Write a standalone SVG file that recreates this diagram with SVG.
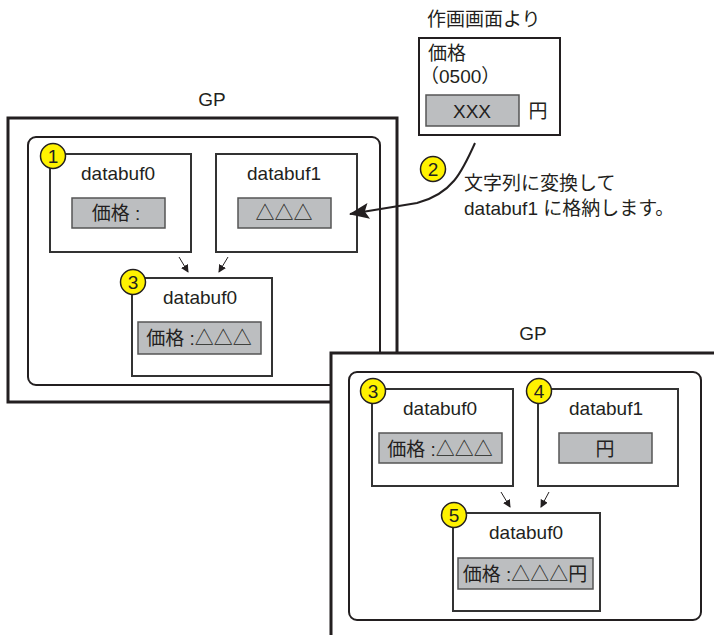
<svg xmlns="http://www.w3.org/2000/svg" width="714" height="635" viewBox="0 0 714 635">
<style>
text{font-family:"Liberation Sans","Noto Sans CJK JP",Arial,sans-serif;fill:#231f20;font-size:19px}
.c{text-anchor:middle;dominant-baseline:central}
.outer{fill:#fff;stroke:#231f20;stroke-width:3}
.inner{fill:#fff;stroke:#231f20;stroke-width:2}
.box{fill:#fff;stroke:#333;stroke-width:2}
.field{fill:#bcbec0;stroke:#555;stroke-width:1.5}
.badge{fill:#fff200;stroke:#231f20;stroke-width:1.5}
.thin{stroke:#231f20;stroke-width:1;fill:none}
</style>
<defs>
<marker id="sa" markerWidth="8" markerHeight="8" refX="7" refY="4" orient="auto" markerUnits="userSpaceOnUse"><path d="M0,0 L8,4 L0,8 z" fill="#231f20"/></marker>
<marker id="ba" markerWidth="20" markerHeight="16" refX="19" refY="8" orient="auto" markerUnits="userSpaceOnUse"><path d="M0,0 L20,8 L0,16 L4,8 z" fill="#231f20"/></marker>
</defs>

<!-- Left GP -->
<g id="gp1">
<text class="c" x="212" y="99">GP</text>
<rect class="outer" x="8" y="118" width="389" height="284"/>
<rect class="inner" x="28" y="137" width="352" height="248" rx="8"/>
</g>
<g id="n1">
<rect class="box" x="50" y="154" width="141" height="98"/>
<text class="c" x="118" y="173">databuf0</text>
<rect class="field" x="72" y="198" width="93" height="30"/>
<text class="c" x="116" y="213">価格 :</text>
<circle class="badge" cx="53" cy="156" r="12.5"/>
<text class="c" x="53" y="156">1</text>
</g>
<g id="n1b">
<rect class="box" x="216" y="154" width="141" height="98"/>
<text class="c" x="284" y="173">databuf1</text>
<rect class="field" x="238" y="198" width="93" height="30"/>
<text class="c" x="284" y="213">△△△</text>
</g>
<g id="n3">
<rect class="box" x="132" y="278" width="140" height="98"/>
<text class="c" x="200" y="297">databuf0</text>
<rect class="field" x="138" y="322" width="123" height="32"/>
<text class="c" x="199" y="338">価格 :△△△</text>
<circle class="badge" cx="133" cy="282" r="12.5"/>
<text class="c" x="133" y="282">3</text>
</g>

<!-- Top source -->
<g id="src">
<text x="427" y="26">作画画面より</text>
<rect class="inner" x="419" y="38" width="141" height="97"/>
<text x="428" y="60">価格</text>
<text x="420" y="83">（0500）</text>
<rect class="field" x="426" y="95" width="93" height="31"/>
<text class="c" x="472" y="111">XXX</text>
<text class="c" x="538" y="111">円</text>
</g>
<g id="step2">
<circle class="badge" cx="433" cy="169" r="12.5"/>
<text class="c" x="433" y="169">2</text>
<text x="464" y="190">文字列に変換して</text>
<text x="464" y="215">databuf1 に格納します。</text>
</g>

<!-- Right GP -->
<g id="gp2">
<text class="c" x="533" y="333">GP</text>
<rect class="outer" x="331" y="353" width="400" height="300"/>
<rect class="inner" x="349" y="372" width="352" height="248" rx="8"/>
</g>
<g id="r3">
<rect class="box" x="372" y="389" width="141" height="97"/>
<text class="c" x="440" y="408">databuf0</text>
<rect class="field" x="379" y="433" width="123" height="30"/>
<text class="c" x="440" y="449">価格 :△△△</text>
<circle class="badge" cx="373" cy="391" r="12.5"/>
<text class="c" x="373" y="391">3</text>
</g>
<g id="r4">
<rect class="box" x="538" y="389" width="140" height="97"/>
<text class="c" x="606" y="408">databuf1</text>
<rect class="field" x="559" y="433" width="93" height="30"/>
<text class="c" x="605" y="449">円</text>
<circle class="badge" cx="539" cy="391" r="12.5"/>
<text class="c" x="539" y="391">4</text>
</g>
<g id="r5">
<rect class="box" x="453" y="513" width="147" height="98"/>
<text class="c" x="526" y="532">databuf0</text>
<rect class="field" x="458" y="558" width="135" height="31"/>
<text class="c" x="525" y="574">価格 :△△△円</text>
<circle class="badge" cx="454" cy="515" r="12.5"/>
<text class="c" x="454" y="515">5</text>
</g>

<g id="connectors">
<line class="thin" x1="179" y1="257" x2="188" y2="272" marker-end="url(#sa)"/>
<line class="thin" x1="228" y1="257" x2="219" y2="272" marker-end="url(#sa)"/>
<line class="thin" x1="501" y1="492" x2="510" y2="507" marker-end="url(#sa)"/>
<line class="thin" x1="549" y1="492" x2="541" y2="507" marker-end="url(#sa)"/>
<path d="M475,143 C462,172 452,194 417,203 L350,214" fill="none" stroke="#231f20" stroke-width="2" marker-end="url(#ba)"/>
</g>
</svg>
